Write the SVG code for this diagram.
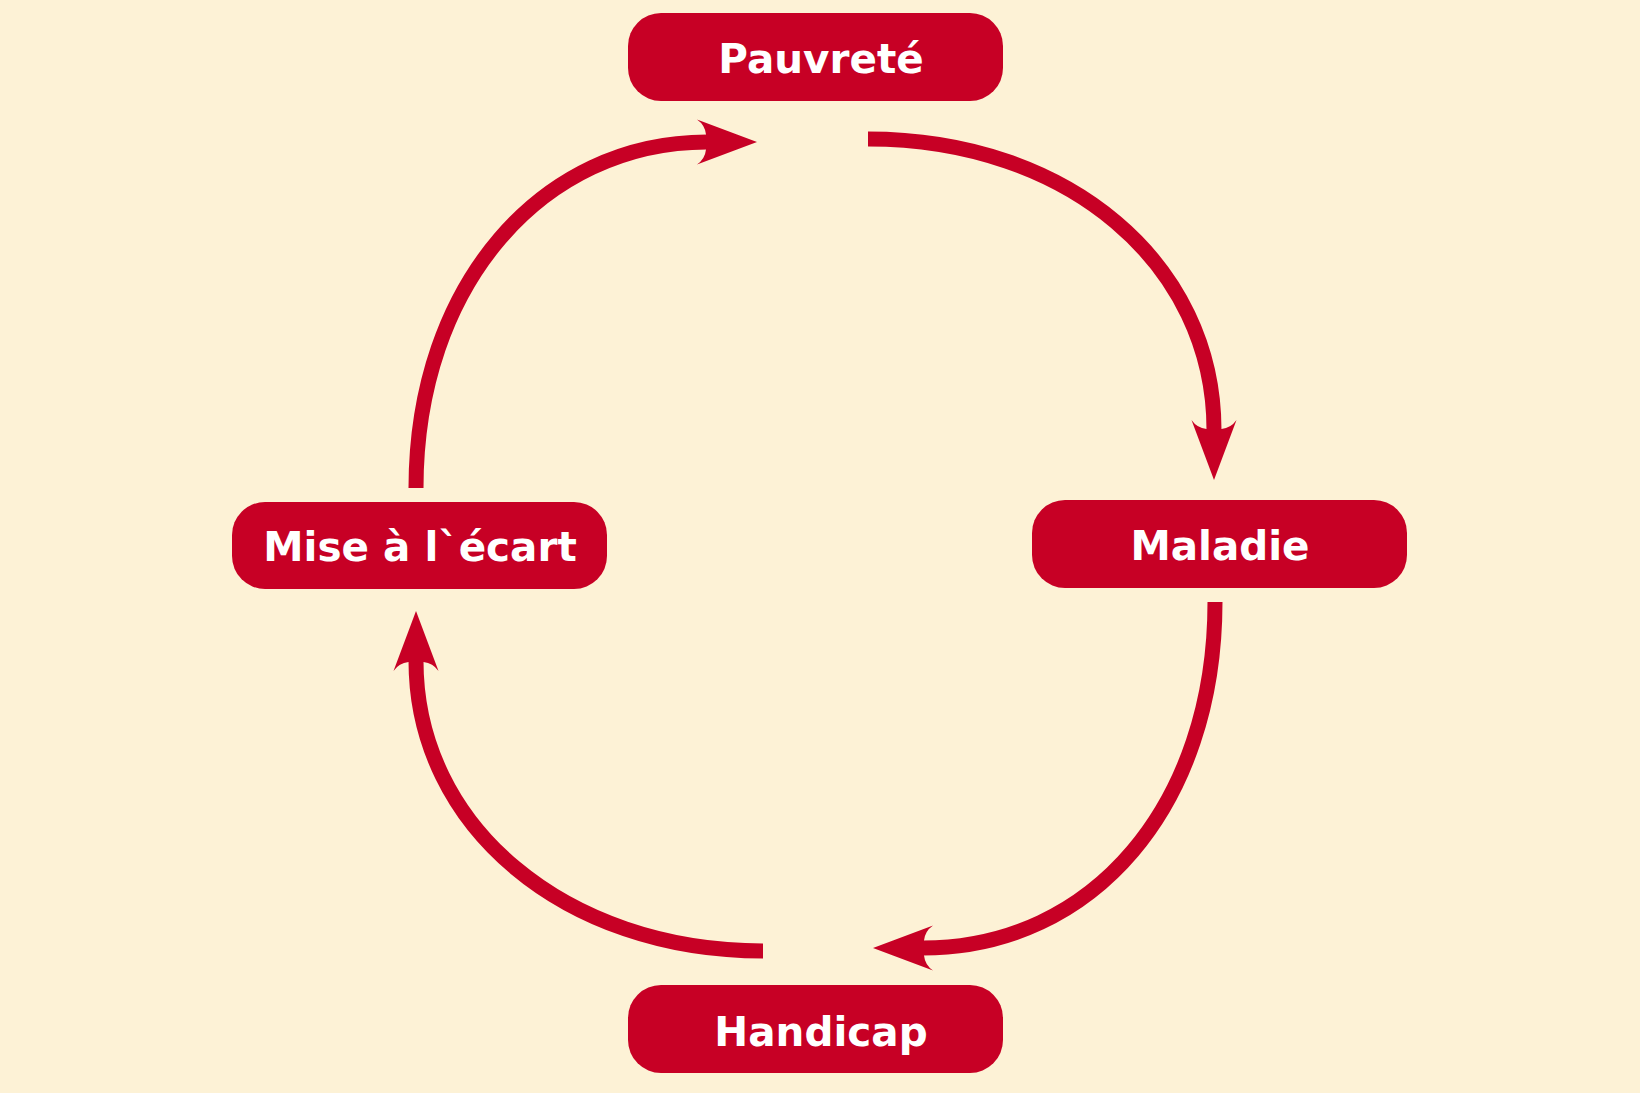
<svg xmlns="http://www.w3.org/2000/svg" width="1640" height="1093" viewBox="0 0 1640 1093">
  <style>
    .box { fill: #C70025; }
    .label { fill: #FFFFFF; font-family: "DejaVu Sans", Verdana, sans-serif; font-weight: bold; font-size: 40.5px; text-anchor: middle; }
    .link { fill: none; stroke: #C70025; stroke-width: 15; stroke-linecap: butt; }
  </style>
  <defs>
    <marker id="head" markerUnits="userSpaceOnUse" orient="auto" refX="0" refY="0" markerWidth="80" markerHeight="60" overflow="visible">
      <path d="M 50 0 L -10 -22.5 Q -2 -17 -1 -7.5 L -1 7.5 Q -2 17 -10 22.5 Z" fill="#C70025"/>
    </marker>
  </defs>
  <rect width="1640" height="1093" fill="#FDF2D6"/>
  <g id="connectors">
    <path class="link" marker-end="url(#head)" d="M 416 488 C 416 285 542 142 707 142"/>
    <path class="link" marker-end="url(#head)" d="M 868 139 C 1068 139 1214 264 1214 430"/>
    <path class="link" marker-end="url(#head)" d="M 1215 602 C 1215 805 1093 948 923 948"/>
    <path class="link" marker-end="url(#head)" d="M 763 951 C 565 951 416 826 416 661"/>
  </g>
  <g id="pauvrete">
    <rect class="box" x="628" y="13" width="375" height="88" rx="33" ry="33"/>
    <text class="label" x="821" y="73">Pauvreté</text>
  </g>
  <g id="maladie">
    <rect class="box" x="1032" y="500" width="375" height="88" rx="33" ry="33"/>
    <text class="label" x="1220" y="560">Maladie</text>
  </g>
  <g id="handicap">
    <rect class="box" x="628" y="985" width="375" height="88" rx="33" ry="33"/>
    <text class="label" x="821" y="1046">Handicap</text>
  </g>
  <g id="mise-a-l-ecart">
    <rect class="box" x="232" y="502" width="375" height="87" rx="33" ry="33"/>
    <text class="label" x="420" y="561">Mise à l`écart</text>
  </g>
</svg>
